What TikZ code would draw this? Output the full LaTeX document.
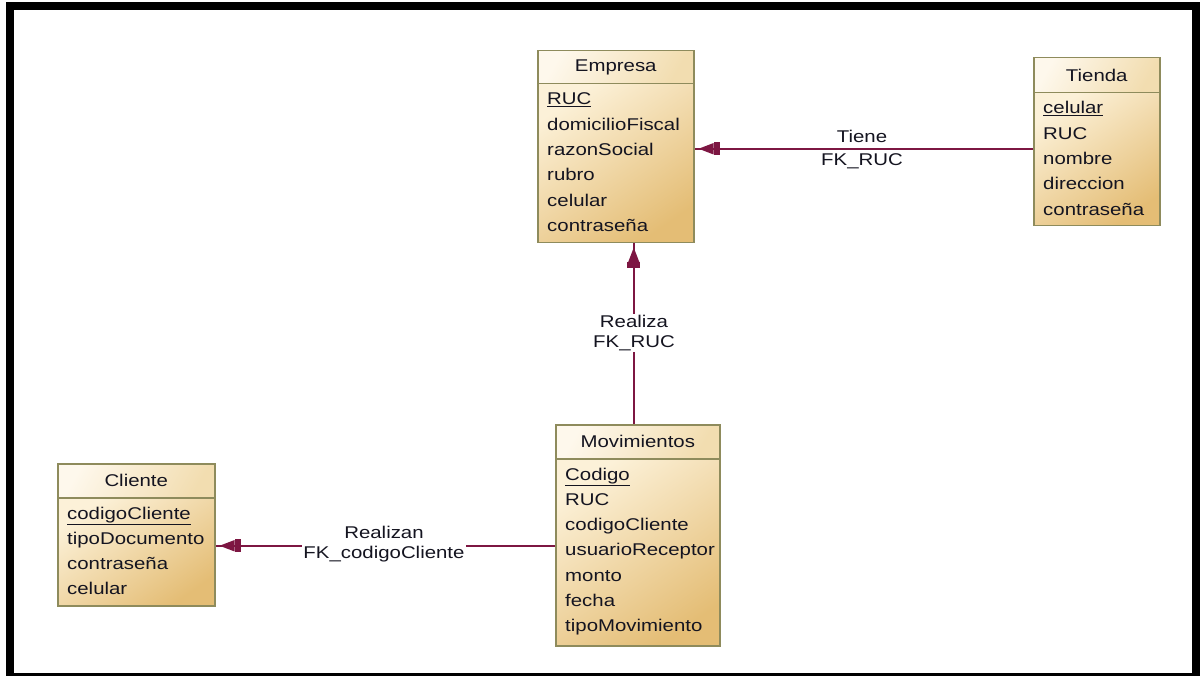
\documentclass[tikz,border=0pt]{standalone}
\usepackage{fontspec}
\setmainfont[FakeStretch=1.2]{Liberation Sans}
\usetikzlibrary{arrows.meta}
\definecolor{bord}{HTML}{8E8B5C}
\definecolor{hdA}{HTML}{FEF8EC}
\definecolor{hdB}{HTML}{F2DDB0}
\definecolor{bdA}{HTML}{FCF1D8}
\definecolor{bdB}{HTML}{E4BD75}
\definecolor{relc}{HTML}{7D1642}
\definecolor{txt}{HTML}{141420}
\tikzset{
  x=1pt, y=-1pt,
  erfont/.style={font=\fontsize{17}{20}\selectfont, text=txt},
  hdrbox/.style={draw=bord, line width=1.5pt, top color=hdA, bottom color=hdB, shading angle=60,
                 anchor=north west, inner sep=0pt, erfont},
  bodybox/.style={draw=bord, line width=1.5pt, top color=bdA, bottom color=bdB, shading angle=35,
                  anchor=north west, inner sep=0pt},
  attr/.style={anchor=base west, inner sep=0pt, erfont},
  relline/.style={draw=relc, line width=1.6pt},
  relhead/.style={relline, -{Rectangle[length=6pt,width=13pt,sep=0pt] Triangle[length=15pt,width=11pt]}, shorten >=4pt},
  rellabel/.style={erfont, inner sep=1pt, align=center},
}
\begin{document}
\begin{tikzpicture}
\useasboundingbox (0,0) rectangle (1204,676);
\fill[white] (0,0) rectangle (1204,676);
\draw[line width=8pt] (10,6) rectangle (1196,677);

% Empresa
\node[hdrbox, minimum width=156pt, minimum height=33pt] (empH) at (537,50) {Empresa};
\node[bodybox, minimum width=156pt, minimum height=159pt] (empB) at (537,83) {};
\foreach \t [count=\i from 0] in {\underline{RUC},domicilioFiscal,razonSocial,rubro,celular,contraseña}
  \node[attr] (emp-\i) at (547,105+\i*25.3) {\t};

% Tienda
\node[hdrbox, minimum width=126pt, minimum height=35pt] (tieH) at (1033,57) {Tienda};
\node[bodybox, minimum width=126pt, minimum height=133pt] (tieB) at (1033,92) {};
\foreach \t [count=\i from 0] in {\underline{celular},RUC,nombre,direccion,contraseña}
  \node[attr] (tie-\i) at (1043,114+\i*25.3) {\t};

% Cliente
\node[hdrbox, minimum width=157pt, minimum height=34pt] (cliH) at (57,463) {Cliente};
\node[bodybox, minimum width=157pt, minimum height=108pt] (cliB) at (57,497) {};
\foreach \t [count=\i from 0] in {\underline{codigoCliente},tipoDocumento,contraseña,celular}
  \node[attr] (cli-\i) at (67,519+\i*25.3) {\t};

% Movimientos
\node[hdrbox, minimum width=164pt, minimum height=34pt] (movH) at (555,424) {Movimientos};
\node[bodybox, minimum width=164pt, minimum height=187pt] (movB) at (555,458) {};
\foreach \t [count=\i from 0] in {\underline{Codigo},RUC,codigoCliente,usuarioReceptor,monto,fecha,tipoMovimiento}
  \node[attr] (mov-\i) at (565,480+\i*25.3) {\t};

% Connectors
\coordinate (t1) at ([yshift=10.5pt]tieB.west);
\draw[relline] (t1) -- (empB.east |- t1);
\draw[relhead] (t1) -- (empB.east |- t1);
\node[rellabel, fill=white] (lt1) at (862,136) {Tiene};
\node[rellabel] (lt2) at (862,161) {FK\_RUC};

\coordinate (m1) at ([xshift=-4pt]movH.north);
\draw[relline] (m1) -- (empB.south -| m1);
\draw[relhead] (m1) -- (empB.south -| m1);
\node[rellabel, fill=white] (lr) at (634,333) {Realiza\\FK\_RUC};

\coordinate (m2) at ([yshift=6.5pt]movB.west);
\draw[relline] (m2) -- (cliB.east |- m2);
\draw[relhead] (m2) -- (cliB.east |- m2);
\node[rellabel, fill=white] (lc) at (384,544) {Realizan\\FK\_codigoCliente};
\end{tikzpicture}
\end{document}
